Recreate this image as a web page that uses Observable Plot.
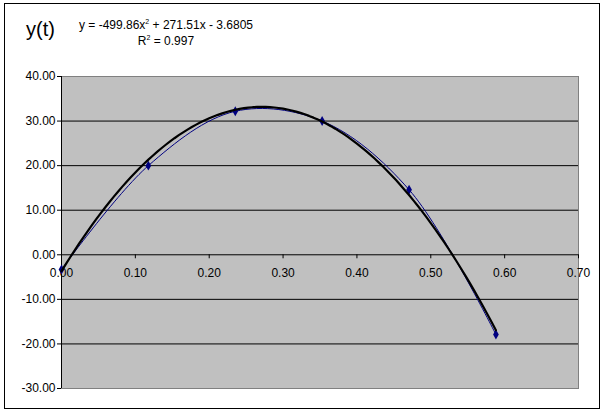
<!DOCTYPE html>
<html>
<head>
<meta charset="utf-8">
<script src="https://cdn.jsdelivr.net/npm/d3@7"></script>
<script src="https://cdn.jsdelivr.net/npm/@observablehq/plot@0.6"></script>
<style>
  html, body { margin: 0; padding: 0; background: #fff; }
  #wrap { position: relative; width: 605px; height: 412px; font-family: "Liberation Sans", Arial, sans-serif; }
  #border { position: absolute; left: 4px; top: 3px; width: 596px; height: 406px; border: 1px solid #000; box-sizing: border-box; pointer-events: none; }
  #chart { position: absolute; left: 0; top: 0; }
  .t { position: absolute; color: #000; white-space: nowrap; }
  #title { left: 26px; top: 18px; font-size: 20px; }
  #eq { left: 66px; width: 200px; top: 18px; font-size: 12px; text-align: center; }
  #r2 { left: 66px; width: 200px; top: 34px; font-size: 12px; text-align: center; }
  sup { font-size: 7px; vertical-align: 5px; line-height: 0; }
</style>
</head>
<body>
<div id="wrap">
  <div id="chart"></div>
  <div id="border"></div>
  <div class="t" id="title">y(t)</div>
  <div class="t" id="eq">y = -499.86x<sup>2</sup> + 271.51x - 3.6805</div>
  <div class="t" id="r2">R<sup>2</sup> = 0.997</div>
</div>
<script>
// Measured points
const times = [0.0, 0.1176, 0.2353, 0.3529, 0.4706, 0.5882];
const values = [-3.3, 20.0, 32.2, 30.0, 14.6, -17.9];
// Polynomial trendline coefficients shown on the chart: a x^2 + b x + c
const trendCoef = [-499.86, 271.51, -3.6805];
const yTicks = [-30, -20, -10, 0, 10, 20, 30, 40];
const xTicks = [0, 0.1, 0.2, 0.3, 0.4, 0.5, 0.6, 0.7];
const gridLines = [-20, -10, 10, 20, 30];

const data = times.map((t, i) => ({t, v: values[i]}));
const trend = d3.range(0, 101).map(i => {
  const x = times[times.length - 1] * i / 100;
  return {t: x, v: trendCoef[0] * x * x + trendCoef[1] * x + trendCoef[2]};
});

const chart = Plot.plot({
  width: 605,
  height: 412,
  marginLeft: 61,
  marginRight: 27,
  marginTop: 76,
  marginBottom: 24,
  style: {fontFamily: "'Liberation Sans', Arial, sans-serif", fontSize: "12px", background: "transparent", overflow: "visible"},
  x: {domain: [0, 0.7], axis: null},
  y: {domain: [-30, 40], axis: null},
  marks: [
    Plot.frame({fill: "#c0c0c0", stroke: "#808080"}),
    Plot.ruleY(gridLines, {stroke: "#000", strokeWidth: 1}),
    Plot.ruleY([0], {stroke: "#000", strokeWidth: 1}),
    Plot.ruleX([0], {stroke: "#000", strokeWidth: 1}),
    Plot.ruleX(xTicks.slice(1), {x: d => d, y1: 0, y2: 0, insetBottom: -4, stroke: "#000"}),
    Plot.ruleY(yTicks, {y: d => d, x1: 0, x2: 0, insetLeft: -4, stroke: "#000"}),
    Plot.text(yTicks, {x: 0, y: d => d, text: d => d.toFixed(2), textAnchor: "end", dx: -6, fill: "#000", fontSize: 12}),
    Plot.text(xTicks, {x: d => d, y: 0, text: d => d.toFixed(2), dy: 18, fill: "#000", fontSize: 12}),
    Plot.line(data, {x: "t", y: "v", stroke: "#000080", strokeWidth: 1, curve: "catmull-rom"}),
    Plot.dot(data, {x: "t", y: "v", symbol: "diamond", r: 3, fill: "#000080", stroke: "none"}),
    Plot.line(trend, {x: "t", y: "v", stroke: "#000", strokeWidth: 2.2})
  ]
});
document.getElementById("chart").appendChild(chart);
</script>
</body>
</html>
